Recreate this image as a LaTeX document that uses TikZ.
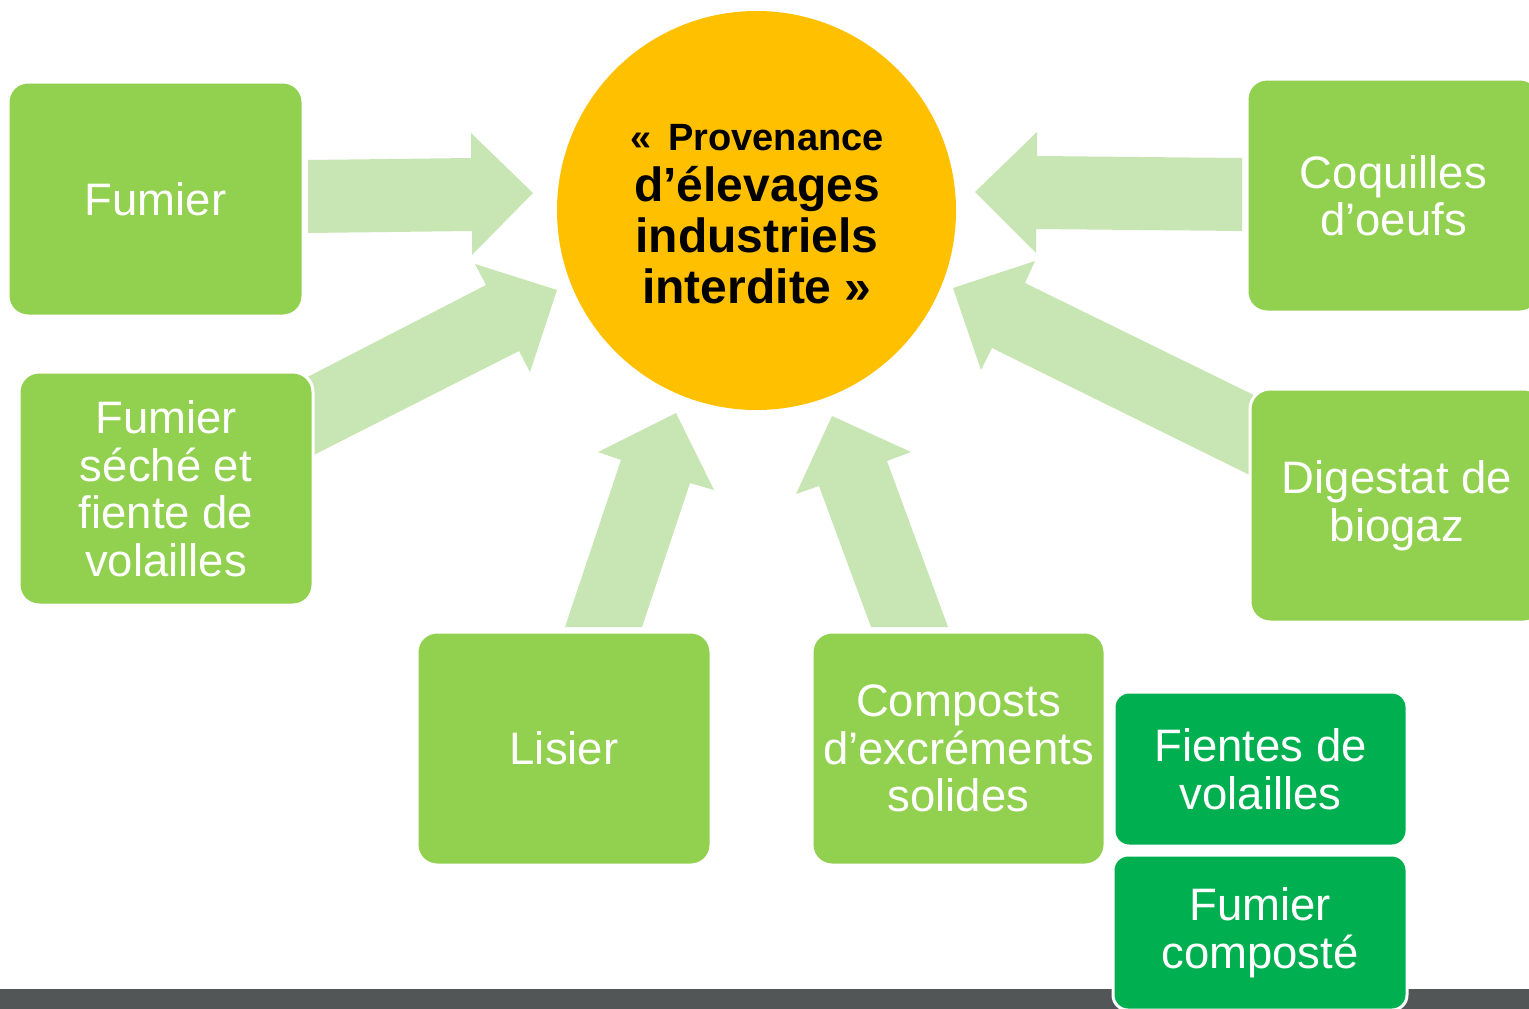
\documentclass[tikz,border=0pt]{standalone}
\usepackage{fontspec}
\setmainfont{Liberation Sans}
\definecolor{boxgreen}{HTML}{92D050}
\definecolor{darkgreen}{HTML}{00B050}
\definecolor{arrowgreen}{HTML}{C8E6B4}
\definecolor{sunyellow}{HTML}{FFC000}
\definecolor{bargray}{HTML}{525656}
\tikzset{
  srcbox/.style={rectangle, rounded corners=20pt, fill=boxgreen, draw=white, line width=3pt,
    text=white, align=center, inner sep=0pt, font=\fontsize{45.5}{47.5}\selectfont},
  subbox/.style={srcbox, fill=darkgreen, rounded corners=15pt},
  blockarrow/.style={fill=arrowgreen, draw=none},
}
\begin{document}
\begin{tikzpicture}[x=1pt,y=-1pt]
\clip (0,0) rectangle (1529,1009);
\fill[white] (0,0) rectangle (1529,1009);
% bottom bar
\fill[bargray] (0,989) rectangle (1529,1009);
% block arrows
\fill[blockarrow] (308,160) -- (471,158) -- (471,133) -- (533,193) -- (472,255) -- (472,231) -- (308,233) -- cycle;
\fill[blockarrow] (290,386) -- (486,285) -- (475,264) -- (557,290) -- (530,372) -- (519,351) -- (290,467) -- cycle;
\fill[blockarrow] (565,627) -- (621,460) -- (598,452) -- (676,413) -- (714,490) -- (690,483) -- (642,627) -- cycle;
\fill[blockarrow] (871,627) -- (819,486) -- (796,494) -- (832,416) -- (911,452) -- (887,461) -- (948,627) -- cycle;
\fill[blockarrow] (1242,158) -- (1037,156) -- (1037,132) -- (975,192) -- (1036,253) -- (1036,229) -- (1242,231) -- cycle;
\fill[blockarrow] (1270,403) -- (1025,283) -- (1035,261) -- (953,288) -- (981,370) -- (992,348) -- (1270,485) -- cycle;
% centre circle
\node[circle, fill=sunyellow, minimum size=399pt, inner sep=0pt] (centre) at (756.5,210.5) {};
\node[align=center, inner sep=0pt, font=\bfseries\fontsize{48}{51}\selectfont] (title) at (757,214)
  {{\fontsize{38}{40}\selectfont «\hspace{0.45em}Provenance}\\d’élevages\\industriels\\interdite~»};
% source boxes
\node[srcbox, minimum width=295pt, minimum height=234pt] (fumier) at (155.5,199) {Fumier};
\node[srcbox, minimum width=294pt, minimum height=233pt] (seche) at (166,488.5) {Fumier\\séché et\\fiente de\\volailles};
\node[srcbox, minimum width=294pt, minimum height=233pt] (lisier) at (564,748.5) {Lisier};
\node[srcbox, minimum width=293pt, minimum height=233pt] (composts) at (958.5,748.5) {Composts\\d’excréments\\solides};
\node[srcbox, minimum width=293pt, minimum height=233pt] (coquilles) at (1393.5,195.5) {Coquilles\\d’oeufs};
\node[srcbox, minimum width=294pt, minimum height=233pt] (digestat) at (1397,505.5) {Digestat de\\biogaz};
\node[subbox, minimum width=293pt, minimum height=154pt] (fientes) at (1260.5,769) {Fientes de\\volailles};
\node[subbox, minimum width=294pt, minimum height=155pt] (fcompost) at (1260,932.5) {Fumier\\composté};
\end{tikzpicture}
\end{document}
